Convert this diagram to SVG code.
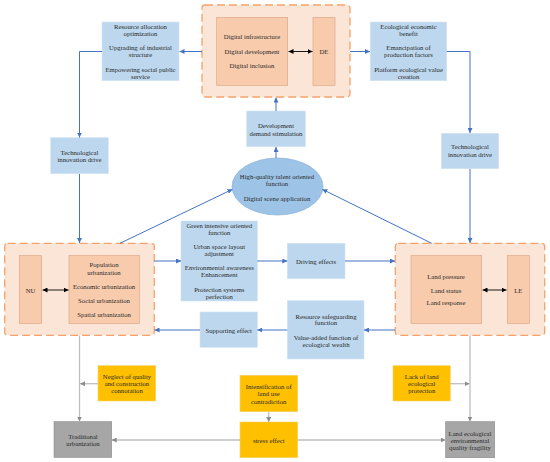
<svg xmlns="http://www.w3.org/2000/svg" width="550" height="462" viewBox="0 0 550 462">
<defs>
<style>
text{font-family:"Liberation Serif","DejaVu Serif",serif;font-size:6.7px;fill:#2a2a2a;text-anchor:middle;dominant-baseline:central}
.cont{fill:#fbe5d6;stroke:#f4a26c;stroke-width:1.3;stroke-dasharray:8,4}
.inner{fill:#f8cbad;stroke:#d9a282;stroke-width:0.6}
.blue{fill:#bdd7ee;stroke:#d3e3f3;stroke-width:0.6}
.orange{fill:#ffc000;stroke:#f5d36a;stroke-width:0.6}
.gray{fill:#a6a6a6;stroke:#8a8a8a;stroke-width:0.6}
.bl{fill:none;stroke:#4472c4;stroke-width:1}
.bk{fill:none;stroke:#000;stroke-width:0.9}
.gl{fill:none;stroke:#bfbfbf;stroke-width:1.3}
</style>
<marker id="ab" viewBox="0 0 10 10" refX="10" refY="5" markerWidth="5" markerHeight="5" markerUnits="userSpaceOnUse" orient="auto"><path d="M0,0L10,5L0,10z" fill="#4472c4"/></marker>
<marker id="ak" viewBox="0 0 10 10" refX="10" refY="5" markerWidth="5" markerHeight="5" markerUnits="userSpaceOnUse" orient="auto-start-reverse"><path d="M0,0L10,5L0,10z" fill="#000"/></marker>
<marker id="ag" viewBox="0 0 10 10" refX="10" refY="5" markerWidth="5" markerHeight="5" markerUnits="userSpaceOnUse" orient="auto"><path d="M0,0L10,5L0,10z" fill="#8c8c8c"/></marker>
</defs>
<rect width="550" height="462" fill="#fff"/>

<g id="de">
<rect class="cont" x="202" y="5" width="148" height="92" rx="3"/>
<rect class="inner" x="216.7" y="17.3" width="71" height="68"/>
<text x="252" y="36.7">Digital infrastructure</text>
<text x="252" y="51.7">Digital development</text>
<text x="252" y="65.3">Digital inclusion</text>
<rect class="inner" x="313" y="17.3" width="22" height="68"/>
<text x="324" y="51.7">DE</text>
</g>

<g id="res-alloc">
<rect class="blue" x="102" y="22" width="77" height="58.7"/>
<text x="140.5" y="26">Resource allocation</text>
<text x="140.5" y="33.3">optimization</text>
<text x="140.5" y="47.3">Upgrading of  industrial</text>
<text x="140.5" y="54.7">structure</text>
<text x="140.5" y="69">Empowering social public</text>
<text x="140.5" y="76.3">service</text>
</g>

<g id="eco-benefit">
<rect class="blue" x="370.3" y="22" width="76.4" height="58.7"/>
<text x="408.5" y="26">Ecological economic</text>
<text x="408.5" y="33.3">benefit</text>
<text x="408.5" y="47.3">Emancipation of</text>
<text x="408.5" y="54.7">production factors</text>
<text x="408.5" y="69">Platform ecological value</text>
<text x="408.5" y="76.3">creation</text>
</g>

<g id="tech-left">
<rect class="blue" x="50.7" y="137.7" width="57.6" height="36"/>
<text x="79.5" y="152">Technological</text>
<text x="79.5" y="159.3">innovation drive</text>
</g>

<g id="tech-right">
<rect class="blue" x="441.3" y="133.3" width="57.4" height="35.4"/>
<text x="470" y="146.7">Technological</text>
<text x="470" y="154.3">innovation drive</text>
</g>

<g id="dev-demand">
<rect class="blue" x="246.7" y="111" width="58.6" height="35.7"/>
<text x="276" y="125">Development</text>
<text x="276" y="133">demand stimulation</text>
</g>

<g id="talent">
<ellipse cx="277.5" cy="186.5" rx="45.5" ry="28.5" fill="#9dc3e6" stroke="#7eaad6" stroke-width="0.6"/>
<text x="277" y="176">High-quality talent oriented</text>
<text x="277" y="183.3">function</text>
<text x="277" y="198.3">Digital scene application</text>
</g>

<g id="nu">
<rect class="cont" x="4.7" y="243.3" width="149.6" height="92" rx="3"/>
<rect class="inner" x="19.3" y="255.7" width="22.4" height="67.6"/>
<text x="30.5" y="290">NU</text>
<rect class="inner" x="69" y="255.7" width="70.3" height="67.6"/>
<text x="104" y="264.7">Population</text>
<text x="104" y="272">urbanization</text>
<text x="104" y="286">Economic urbanization</text>
<text x="104" y="300.3">Social urbanization</text>
<text x="104" y="314.3">Spatial urbanization</text>
</g>

<g id="green">
<rect class="blue" x="181" y="221" width="76.3" height="80"/>
<text x="219.3" y="225">Green intensive oriented</text>
<text x="219.3" y="232.3">function</text>
<text x="219.3" y="246">Urban space layout</text>
<text x="219.3" y="253.3">adjustment</text>
<text x="219.3" y="267.3">Environmental awareness</text>
<text x="219.3" y="274.7">Enhancement</text>
<text x="219.3" y="289.3">Protection systems</text>
<text x="219.3" y="296.7">perfection</text>
</g>

<g id="driving">
<rect class="blue" x="287.3" y="243.3" width="57.7" height="35.4"/>
<text x="316" y="261">Driving effects</text>
</g>

<g id="le">
<rect class="cont" x="395.3" y="243.3" width="149.4" height="92" rx="3"/>
<rect class="inner" x="411" y="255.7" width="70.7" height="67.6"/>
<text x="446" y="276.7">Land pressure</text>
<text x="446" y="290">Land status</text>
<text x="446" y="302.7">Land response</text>
<rect class="inner" x="507.3" y="255.7" width="22" height="67.6"/>
<text x="518.3" y="290">LE</text>
</g>

<g id="safeguard">
<rect class="blue" x="287.3" y="300.7" width="76.7" height="58.3"/>
<text x="326" y="316">Resource safeguarding</text>
<text x="326" y="322.7">function</text>
<text x="326" y="337">Value-added function of</text>
<text x="326" y="344.3">ecological wealth</text>
</g>

<g id="supporting">
<rect class="blue" x="200" y="312" width="57.3" height="35.3"/>
<text x="228.7" y="330">Supporting effect</text>
</g>

<g id="neglect">
<rect class="orange" x="98" y="365.7" width="57.7" height="35.3"/>
<text x="127" y="376.7">Neglect of  quality</text>
<text x="127" y="383.7">and construction</text>
<text x="127" y="390.7">connotation</text>
</g>

<g id="intens">
<rect class="orange" x="240" y="375.3" width="57.7" height="36.4"/>
<text x="268.7" y="386">Intensification of</text>
<text x="268.7" y="393.3">land use</text>
<text x="268.7" y="401">contradiction</text>
</g>

<g id="stress">
<rect class="orange" x="240" y="422" width="57.7" height="35.7"/>
<text x="268.7" y="440">stress effect</text>
</g>

<g id="lack">
<rect class="orange" x="393" y="365.7" width="57.3" height="35.3"/>
<text x="421.7" y="376.7">Lack of land</text>
<text x="421.7" y="383.7">ecological</text>
<text x="421.7" y="390.7">protection</text>
</g>

<g id="traditional">
<rect class="gray" x="54" y="421.7" width="57.7" height="35.6"/>
<text x="83" y="436.3">Traditional</text>
<text x="83" y="443.3">urbanization</text>
</g>

<g id="fragility">
<rect class="gray" x="445.7" y="421.7" width="49" height="36"/>
<text x="470" y="433.3">Land ecological</text>
<text x="470" y="440.3">environmental</text>
<text x="470" y="447.3">quality fragility</text>
</g>

<g id="connectors">
<path class="bl" d="M202,51.5H179.5" marker-end="url(#ab)"/>
<path class="bl" d="M102,51.5H79.5V137.5" marker-end="url(#ab)"/>
<path class="bl" d="M79.5,174V243" marker-end="url(#ab)"/>
<path class="bl" d="M350,51.5H370" marker-end="url(#ab)"/>
<path class="bl" d="M446.7,51.5H470V133" marker-end="url(#ab)"/>
<path class="bl" d="M470,169V243" marker-end="url(#ab)"/>
<path class="bl" d="M276,111V97.5" marker-end="url(#ab)"/>
<path class="bl" d="M276,158V147" marker-end="url(#ab)"/>
<path class="bl" d="M120,243.3L232.5,189.3" marker-end="url(#ab)"/>
<path class="bl" d="M431.7,243.3L322.3,189.3" marker-end="url(#ab)"/>
<path class="bl" d="M154.3,261H181" marker-end="url(#ab)"/>
<path class="bl" d="M257.3,261H287.3" marker-end="url(#ab)"/>
<path class="bl" d="M345,261H395" marker-end="url(#ab)"/>
<path class="bl" d="M395,330H364" marker-end="url(#ab)"/>
<path class="bl" d="M287.3,330H257.3" marker-end="url(#ab)"/>
<path class="bl" d="M200,330H154.5" marker-end="url(#ab)"/>
<path class="bk" d="M288.5,51.5H312.5" marker-start="url(#ak)" marker-end="url(#ak)"/>
<path class="bk" d="M42.5,290H68.5" marker-start="url(#ak)" marker-end="url(#ak)"/>
<path class="bk" d="M482.5,290H506.5" marker-start="url(#ak)" marker-end="url(#ak)"/>
<path class="gl" d="M79.5,335.5V421.5" marker-end="url(#ag)"/>
<path class="gl" d="M98,383.7H80" marker-end="url(#ag)"/>
<path class="gl" d="M268.7,411.7V422" marker-end="url(#ag)"/>
<path class="gl" d="M240,440H111.7" marker-end="url(#ag)"/>
<path class="gl" d="M297.7,440H445.7" marker-end="url(#ag)"/>
<path class="gl" d="M470,335.5V421.5" marker-end="url(#ag)"/>
<path class="gl" d="M450.3,383.7H469.5" marker-end="url(#ag)"/>
</g>
</svg>
